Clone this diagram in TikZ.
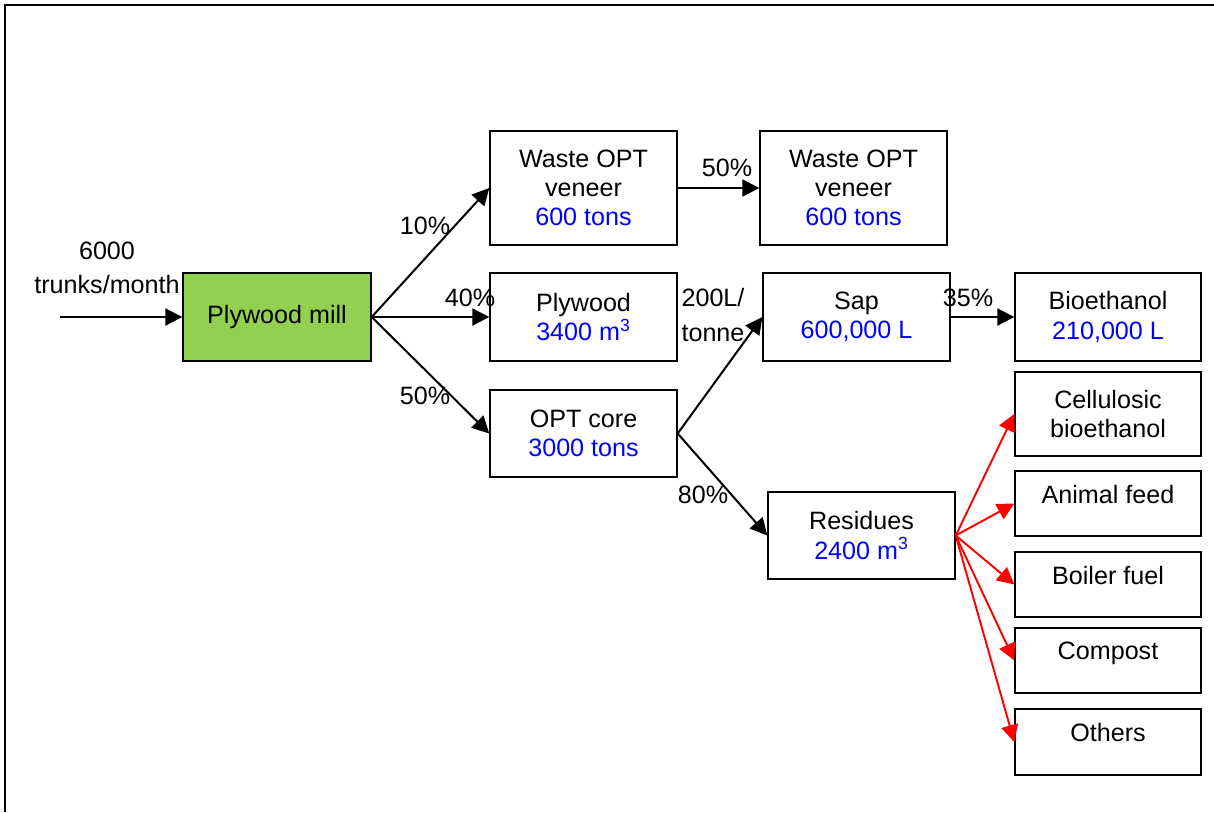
\documentclass[tikz,border=0pt]{standalone}
\usepackage{fontspec}
\setmainfont{Liberation Sans}
\usetikzlibrary{arrows.meta,positioning}
\definecolor{millgreen}{RGB}{146,208,80}
\definecolor{qtyblue}{RGB}{0,0,255}
\newcommand{\flowFont}{\fontsize{14.3}{16.6}\selectfont}
\newcommand{\flowQty}[1]{{\color{qtyblue}#1}}
\tikzset{
  flow box/.style={
    draw,
    line width=0.8pt,
    minimum width=3.74cm,
    minimum height=1.76cm,
    align=center,
    inner sep=1pt,
    font=\flowFont
  },
  flow use/.style={
    flow box,
    minimum width=3.72cm,
    minimum height=1.3cm,
    text depth=0.38cm
  },
  flow arrow/.style={
    -{Triangle[length=0.34cm,width=0.34cm]},
    line width=1.15pt
  },
  flow residue/.style={
    flow arrow,
    draw=red,
    line width=1.1pt
  },
  flow label/.style={
    font=\flowFont,
    inner sep=0pt,
    align=center
  }
}

\begin{document}
\begin{tikzpicture}[x=0.02cm,y=-0.02cm]
  \useasboundingbox (0,0) rectangle (1214,812);
  \draw[line width=1.4pt] (5,812) -- (5,5) -- (1214,5);

  % boxes
  \node[flow box,fill=millgreen,minimum width=3.76cm] (mill) at (277,317) {Plywood mill};
  \node[flow box,minimum height=2.28cm] (veneer) at (583.5,188)
    {Waste OPT\\veneer\\\flowQty{600 tons}};
  \node[flow box,minimum height=2.28cm] (veneerb) at (853.5,188)
    {Waste OPT\\veneer\\\flowQty{600 tons}};
  \node[flow box] (plywood) at (583.5,317)
    {Plywood\\\flowQty{3400 m\textsuperscript{3}}};
  \node[flow box,minimum height=1.74cm] (core) at (583.5,433.5)
    {OPT core\\\flowQty{3000 tons}};
  \node[flow box] (sap) at (856.5,317) {Sap\\\flowQty{600,000 L}};
  \node[flow box,minimum width=3.72cm] (bioeth) at (1108,317)
    {Bioethanol\\\flowQty{210,000 L}};
  \node[flow box,minimum height=1.74cm] (residues) at (861.5,535.5)
    {Residues\\\flowQty{2400 m\textsuperscript{3}}};
  \node[flow box,minimum width=3.72cm,minimum height=1.68cm] (cellulosic) at (1108,414)
    {Cellulosic\\bioethanol};
  \node[flow use] (feed) at (1108,503.5) {Animal feed};
  \node[flow use] (boiler) at (1108,584.5) {Boiler fuel};
  \node[flow use] (compost) at (1108,660.5) {Compost};
  \node[flow use,minimum height=1.32cm] (others) at (1108,742) {Others};

  % flows
  \coordinate (trunks) at (60,317);
  \draw[flow arrow] (trunks) -- (mill.west);
  \draw[flow arrow] (mill.east) -- (veneer.west);
  \draw[flow arrow] (mill.east) -- (plywood.west);
  \draw[flow arrow] (mill.east) -- (core.west);
  \draw[flow arrow] (veneer.east) -- (veneerb.west);
  \draw[flow arrow] (core.east) -- (sap.west);
  \draw[flow arrow] (core.east) -- (residues.west);
  \draw[flow arrow] (sap.east) -- (bioeth.west);
  \foreach \use in {cellulosic,feed,boiler,compost,others}
    \draw[flow residue] (residues.east) -- (\use.west);

  % labels
  \node[flow label] (trunkslbl) at (107,268) {6000\\[3pt]trunks/month};
  \node[flow label] (p10) at (425,226) {10\%};
  \node[flow label] (p40) at (470,298) {40\%};
  \node[flow label] (p50) at (425,396) {50\%};
  \node[flow label] (p50b) at (727,168) {50\%};
  \node[flow label] (saprate) at (713,315) {200L/\\[3pt]tonne};
  \node[flow label] (p80) at (703,495) {80\%};
  \node[flow label] (p35) at (968,298) {35\%};
\end{tikzpicture}
\end{document}
